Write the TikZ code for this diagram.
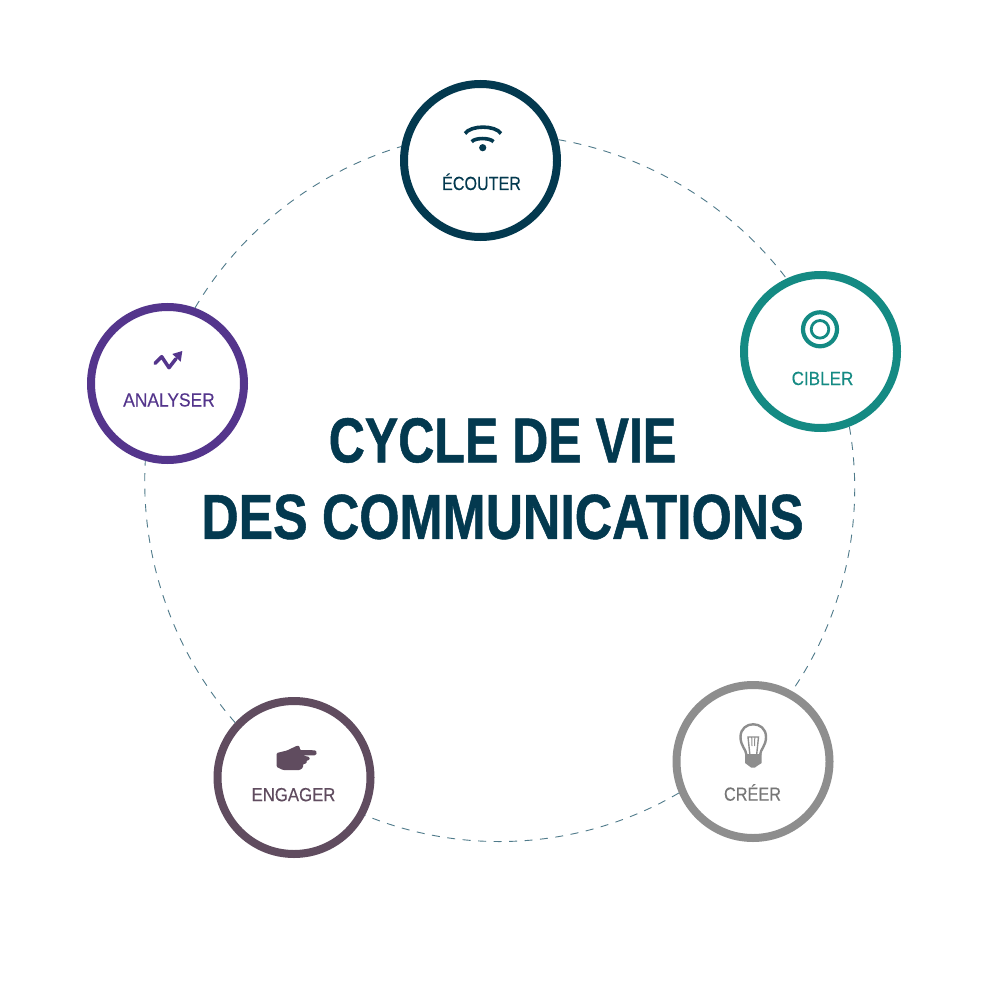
\documentclass[tikz,border=0pt]{standalone}
\usepackage{fontspec}
\setmainfont[FakeStretch=0.84,FakeBold=0.25]{Liberation Sans}
\newfontfamily\titlefont[FakeStretch=0.8,FakeBold=0.8]{Liberation Sans}
\definecolor{cEcouter}{HTML}{03394F}
\definecolor{cCibler}{HTML}{148A83}
\definecolor{cCreer}{HTML}{8E8E8E}
\definecolor{cCreerT}{HTML}{767676}
\definecolor{cEngager}{HTML}{604C5F}
\definecolor{cAnalyser}{HTML}{54358C}
\definecolor{cDash}{HTML}{4F7A8A}
\tikzset{
  ring/.style={circle,draw=#1,fill=white,line width=8pt,minimum size=153pt,inner sep=0pt},
  lab/.style={anchor=base,text=#1,font=\fontsize{19}{19}\selectfont,inner sep=0pt},
  arcdash/.style={draw=cDash,line width=0.9pt,dash pattern=on 8pt off 7.5pt},
}
\begin{document}
\begin{tikzpicture}[x=1pt,y=-1pt]
\useasboundingbox (0,0) rectangle (1000,1000);
\fill[white] (0,0) rectangle (1000,1000);
% rings
\node[ring=cEcouter] (ecouter) at (480.5,160.5) {};
\node[ring=cCibler] (cibler) at (820.5,351.5) {};
\node[ring=cCreer] (creer) at (753,761.5) {};
\node[ring=cEngager] (engager) at (294,777.5) {};
\node[ring=cAnalyser] (analyser) at (167.5,383.5) {};
% connectors
\draw[arcdash] (ecouter.15.6) to[bend left=21.4,looseness=0.877] (cibler.115.8);
\draw[arcdash] (cibler.-69) to[bend left=22.2,looseness=0.884] (creer.61.4);
\draw[arcdash] (creer.203.3) to[bend left=26.3,looseness=0.897] (engager.-28.4);
\draw[arcdash] (engager.137.2) to[bend left=22.2,looseness=0.884] (analyser.254.6);
\draw[arcdash] (analyser.70.7) to[bend left=21.4,looseness=0.877] (ecouter.170.5);
% labels
\node[lab=cEcouter] (tE) at (481.5,190) {\scalebox{1.01}[1]{ÉCOUTER}};
\node[lab=cCibler] (tC) at (822.5,385) {\scalebox{1.07}[1]{CIBLER}};
\node[lab=cCreerT] (tR) at (752.5,800.7) {\scalebox{1.02}[1]{CRÉER}};
\node[lab=cEngager] (tG) at (293.5,801.2) {\scalebox{1.05}[1]{ENGAGER}};
\node[lab=cAnalyser] (tA) at (169,406.5) {\scalebox{1.09}[1]{ANALYSER}};
% title
\node[align=center,text=cEcouter,font=\titlefont\bfseries\fontsize{63.5}{76.5}\selectfont,inner sep=0pt] (title) at (502.5,478.7) {\scalebox{0.985}[1]{CYCLE DE VIE}\\\scalebox{1.018}[1]{DES COMMUNICATIONS}};
% wifi icon
\fill[cEcouter] (482.7,147.7) circle (3.6);
\draw[cEcouter,line width=3.6pt] (471.7,141.7) .. controls (475,137.5) and (490,137.5) .. (493.5,141.7);
\draw[cEcouter,line width=3.6pt] (465,133.5) .. controls (471,125) and (495,125) .. (501,133.5);
% target icon
\draw[cCibler,line width=4.2pt] (820,329.3) circle (17);
\draw[cCibler,line width=2.8pt] (820,329.3) circle (8.8);
% bulb icon
\draw[cCreer,line width=2.4pt,line join=round] (746.5,755) .. controls (746,749) and (740.5,746) .. (740.5,737) .. controls (740.5,720) and (766,720) .. (766,737) .. controls (766,746) and (760.5,749) .. (760,755);
\draw[cCreer,line width=1.4pt] (750,756) -- (748,737) -- (758.5,737) -- (756.5,756);
\draw[cCreer,line width=1pt] (751.7,737) -- (752,746) (754.8,737) -- (754.5,746);
\fill[cCreer] (745,754) -- (761.7,754) -- (761.7,763) -- (757,766) -- (755,767.5) -- (751,767.5) -- (749,766) -- (745,763) -- cycle;
% hand icon
\fill[cEngager,rounded corners=1pt] (276.7,753) -- (287,750.5) -- (297,745.7) -- (299.5,746) -- (300,750) -- (315.5,750.3) -- (317,752.7) -- (315.5,755.3) -- (303,755.5) -- (309.5,757) -- (309.5,760) -- (306.5,760.5) -- (306.5,763.5) -- (303,764) -- (303,767.5) -- (300,770) -- (283,770) -- (276.7,767) -- cycle;
% trend icon
\draw[cAnalyser,line width=3.5pt,line join=round,line cap=round] (155,363.3) -- (161.7,356.7) -- (169,367.7) -- (176,358.7);
\fill[cAnalyser] (172.3,354) -- (182.3,351) -- (180.7,361.7) -- cycle;
\end{tikzpicture}
\end{document}
